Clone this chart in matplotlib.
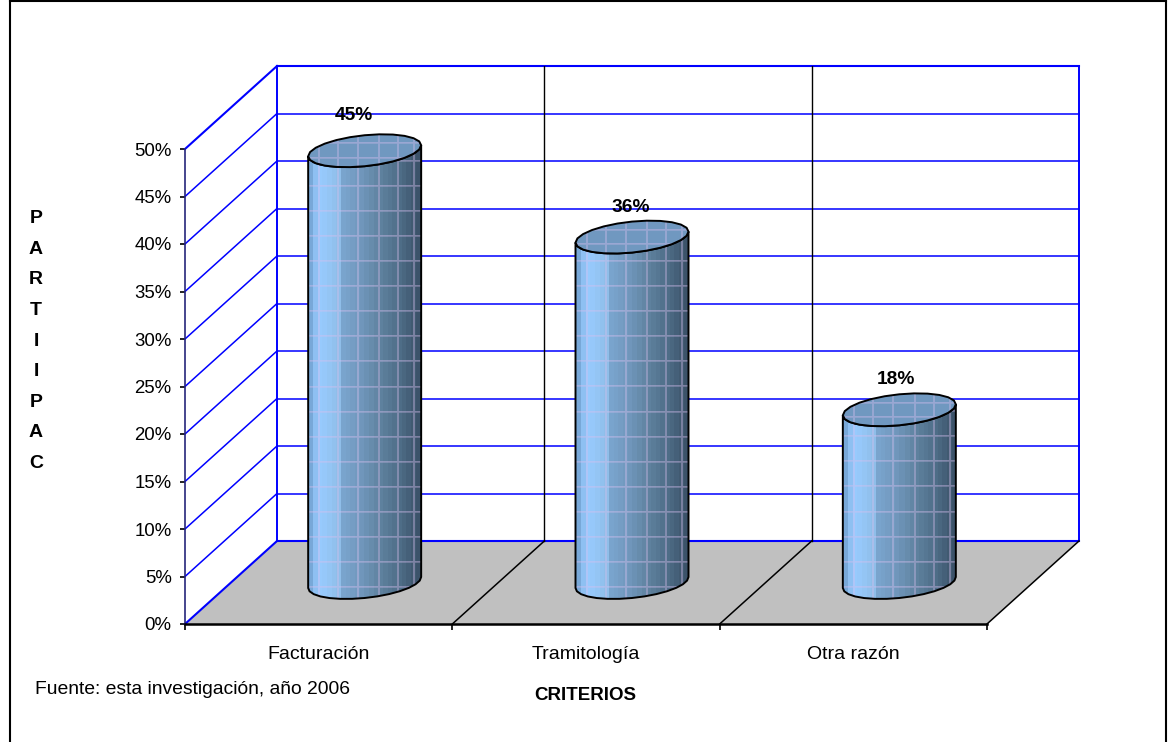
import numpy as np
import matplotlib
matplotlib.use("Agg")
import matplotlib.pyplot as plt
from matplotlib.lines import Line2D
from matplotlib.patches import Polygon
from matplotlib.ticker import FixedLocator, FuncFormatter

categories = ["Facturación", "Tramitología", "Otra razón"]
values = [45.45, 36.36, 18.18]
value_labels = ["45%", "36%", "18%"]
y_ticks = [0, 5, 10, 15, 20, 25, 30, 35, 40, 45, 50]
axis_letters = ["P", "A", "R", "T", "I", "I", "P", "A", "C"]
x_title = "CRITERIOS"
source_note = "Fuente: esta investigación, año 2006"

W, H = 1173, 742
L, R, B, T = 185, 1079, 624, 66
PX_X = (987 - 185) / 3          # pixels per category
PX_Y = 475 / 50                 # pixels per percent
DX, DY = 92 / PX_X, 83 / PX_Y   # oblique depth in data units
BLUE = "#0000FF"
plt.rcParams["font.family"] = ["Liberation Sans", "DejaVu Sans"]

fig = plt.figure(figsize=(W / 100, H / 100), dpi=100, facecolor="white")
ax = fig.add_axes([L / W, (H - B) / H, (R - L) / W, (B - T) / H])
ax.set_xlim(0, (R - L) / PX_X)
ax.set_ylim(0, (B - T) / PX_Y)
ax.patch.set_visible(False)

n = len(categories)
ymax = max(y_ticks)
# floor
ax.add_patch(Polygon([(0, 0), (n, 0), (n + DX, DY), (DX, DY)], closed=True,
                     fc="#C0C0C0", ec="none", zorder=1))
# walls
for v in y_ticks:
    thick = v in (0, ymax)
    lw = 1.5 if thick else 1.1
    ax.plot([DX, n + DX], [DY + v, DY + v], color=BLUE, lw=lw, zorder=2, clip_on=False)
    ax.plot([0, DX], [v, DY + v], color=BLUE, lw=lw, zorder=2, clip_on=False)
ax.plot([DX, DX], [DY, DY + ymax], color=BLUE, lw=1.4, zorder=2, clip_on=False)
ax.plot([n + DX, n + DX], [DY, DY + ymax], color=BLUE, lw=1.4, zorder=2, clip_on=False)
for i in range(1, n):
    ax.plot([i + DX, i + DX], [DY, DY + ymax], color="black", lw=1.0, zorder=2)
for i in range(1, n + 1):
    ax.plot([i, i + DX], [0, DY], color="black", lw=1.1, zorder=2, clip_on=False)

# cylinders
HALF_W = 56.5 / PX_X
TILT = 5.5 / PX_Y
MINOR = 15.5 / PX_Y
STOPS = [0, .03, .09, .25, .27, .45, .62, .79, 1]
RS = [0x78, 0x8C, 0x99, 0x8F, 0x7B, 0x71, 0x5F, 0x4F, 0x38]
GS = [0xA8, 0xBE, 0xCC, 0xBE, 0xA6, 0x98, 0x82, 0x6E, 0x4D]
BS = [0xD8, 0xF0, 0xFF, 0xE9, 0xD0, 0xBD, 0x9F, 0x88, 0x63]
PINK = np.array([214, 190, 238]) / 255
VLINES = [.09, .26, .44, .62, .79, .93]


def ring(cx, cy, t):
    return cx + HALF_W * np.cos(t), cy + TILT * np.cos(t) + MINOR * np.sin(t)


def texture(h, w, flat=None, step=25):
    f = np.floor(np.linspace(0, 1, w) * 24) / 24
    base = np.dstack([np.interp(f, STOPS, c) / 255 for c in (RS, GS, BS)])[0]
    if flat is not None:
        base = np.tile(np.array(flat) / 255, (w, 1))
    img = np.tile(base[None, :, :], (h, 1, 1))
    mask = np.zeros((h, w))
    mask[h % step::step, :] = .42
    mask[(h % step + 1)::step, :] = .3
    for fx in VLINES:
        c = int(fx * w)
        mask[:, c:c + 2] = np.maximum(mask[:, c:c + 2], .38)
    return img * (1 - mask[..., None]) + PINK * mask[..., None]


for i, v in enumerate(values):
    cx = i + .5 + DX / 2
    y0 = DY / 2
    y1 = y0 + v
    tb = np.linspace(np.pi, 2 * np.pi, 15)
    tt = np.linspace(2 * np.pi, np.pi, 15)
    xb, yb = ring(cx, y0, tb)
    xt, yt = ring(cx, y1, tt)
    body = Polygon(np.r_[np.c_[xb, yb], np.c_[xt, yt]], closed=True, fc="none",
                   ec="black", lw=1.4, zorder=5)
    ax.add_patch(body)
    low = y0 - 3
    high = y1 + 3
    h = int((high - low) * PX_Y)
    im = ax.imshow(texture(h, 113), extent=[cx - HALF_W, cx + HALF_W, low, high],
                   aspect="auto", interpolation="nearest", zorder=4)
    im.set_clip_path(body)

    tf = np.linspace(0, 2 * np.pi, 25)
    xf, yf = ring(cx, y1, tf)
    top = Polygon(np.c_[xf, yf], closed=True, fc="none", ec="black", lw=1.4, zorder=7)
    ax.add_patch(top)
    im2 = ax.imshow(texture(40, 113, flat=(0x70, 0x98, 0xC0), step=14),
                    extent=[cx - HALF_W, cx + HALF_W, y1 - 20 / PX_Y, y1 + 20 / PX_Y],
                    aspect="auto", interpolation="nearest", zorder=6)
    im2.set_clip_path(top)

ax.set_xlim(0, (R - L) / PX_X)
ax.set_ylim(0, (B - T) / PX_Y)

# value labels
LABEL_SHIFT_X = [-11, -1, -3]   # pixels
LABEL_Y = [508, 416, 245]       # pixels above the axis baseline
for i, lab in enumerate(value_labels):
    ax.text(i + .5 + DX / 2 + LABEL_SHIFT_X[i] / PX_X, LABEL_Y[i] / PX_Y, lab, ha="center",
            va="center", fontsize=13.8, fontweight="bold", color="black", zorder=9)

# axes
for s in ("top", "right"):
    ax.spines[s].set_visible(False)
ax.spines["left"].set_bounds(0, ymax)
ax.spines["left"].set_color("#26267A")
ax.spines["left"].set_linewidth(1.2)
ax.spines["left"].set_zorder(3)
ax.spines["bottom"].set_bounds(0, n)
ax.spines["bottom"].set_linewidth(1.8)
ax.spines["bottom"].set_zorder(3)
ax.yaxis.set_major_locator(FixedLocator(y_ticks))
ax.yaxis.set_major_formatter(FuncFormatter(lambda v, p: f"{int(v)}%"))
ax.tick_params(axis="y", length=3.6, width=1.2, pad=6, labelsize=13.4)
ax.xaxis.set_major_locator(FixedLocator(range(n + 1)))
ax.xaxis.set_major_formatter(FuncFormatter(lambda v, p: ""))
ax.xaxis.set_minor_locator(FixedLocator([i + .5 for i in range(n)]))
ax.xaxis.set_minor_formatter(FuncFormatter(lambda v, p: categories[int(v)]))
ax.tick_params(axis="x", which="major", length=4.5, width=1.2)
ax.tick_params(axis="x", which="minor", length=0, pad=16, labelsize=14)

ax.set_xlabel(x_title, fontsize=13.5, fontweight="bold")
ax.xaxis.set_label_coords((585 - L) / (R - L), (B - 696) / (B - T), transform=ax.transAxes)
ax.xaxis.label.set_va("center")

fig.text(36 / W, 1 - 341 / H, "\n".join(axis_letters), fontsize=14, fontweight="bold",
         ha="center", va="center", linespacing=2.04, multialignment="center")
fig.text(35 / W, 1 - 690 / H, source_note, fontsize=13.9, ha="left", va="center")

# page frame: open at the bottom
for xs, ys in (([9.5, 9.5], [1, 742]), ([9.5, 1166], [1, 1]), ([1166, 1166], [1, 742])):
    fig.add_artist(Line2D([x / W for x in xs], [1 - y / H for y in ys],
                          transform=fig.transFigure, color="black", lw=1.5))
fig.savefig("out.png", dpi=100)
